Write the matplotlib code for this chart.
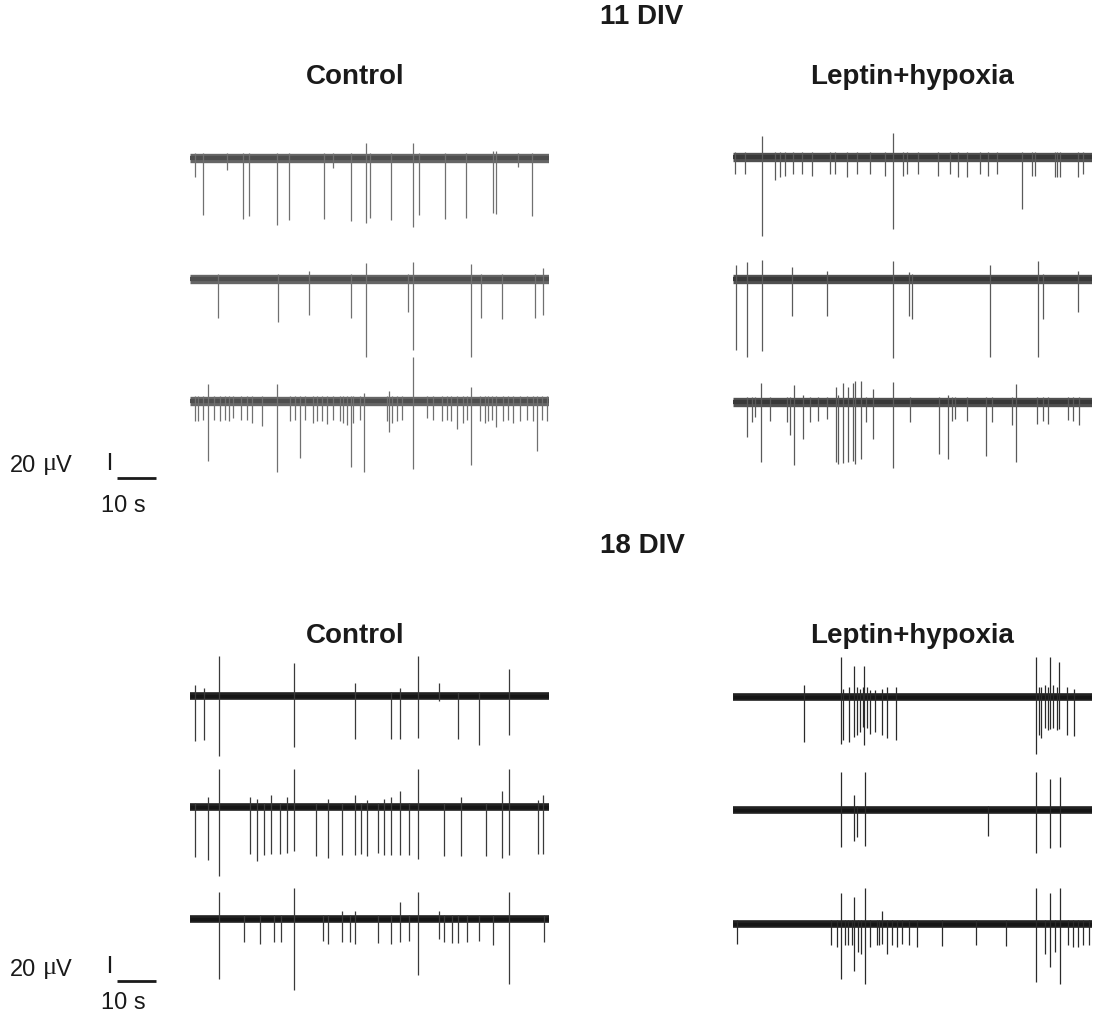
import matplotlib
matplotlib.use("Agg")
import matplotlib.pyplot as plt

W, H = 1093, 1025
PX_PER_S = 3.9          # horizontal scale: 10 s = 39 px
PX_PER_UV = 0.85        # vertical scale: 20 uV = 17 px
DURATION = 92.0         # seconds per trace

# ---------------- data: spike times (s), downward / upward amplitude (uV) ----------------
# 11 DIV control
c11_1_t = [1.3, 3.3, 9.5, 13.6, 15.1, 22.3, 25.4, 34.4, 36.7, 41.3, 45.1, 46.2, 51.5, 57.2, 58.7, 65.4, 70.8, 77.7, 78.5, 84.0, 87.7]
c11_1_dn = [22, 67, 14, 72, 68, 79, 73, 72, 12, 74, 77, 70, 73, 81, 67, 72, 71, 65, 66, 10, 68]
c11_1_up = [0, 5, 0, 5, 0, 5, 0, 5, 0, 0, 18, 0, 5, 18, 5, 5, 5, 8, 8, 0, 5]

c11_2_t = [7.2, 22.6, 30.5, 41.3, 45.1, 55.9, 57.2, 72.1, 74.6, 80.0, 88.5, 90.5]
c11_2_dn = [46, 50, 42, 46, 92, 39, 84, 92, 46, 47, 46, 42]
c11_2_up = [5, 5, 10, 5, 19, 5, 20, 18, 5, 5, 5, 13]

c11_3_t = [4.6, 22.3, 28.2, 41.3, 44.6, 51.0, 57.2, 72.1, 89.0,
           1.3, 2.1, 3.3, 6.2, 7.7, 9.0, 10.1, 11.1, 13.0, 14.5, 15.8, 18.4, 25.6, 26.9, 29.5,
           31.5, 32.6, 33.8, 35.0, 36.6, 38.5, 39.3, 40.2, 41.9, 43.6, 50.4, 51.7, 53.0, 54.3,
           60.7, 62.4, 64.5, 65.8, 66.8, 68.4, 69.9, 71.1, 74.4, 75.6, 76.5, 77.4, 78.5, 80.3,
           81.6, 82.9, 84.6, 86.3, 88.0, 90.2, 91.5]
c11_3_dn = [71, 84, 67, 78, 83, 37, 80, 75, 59,
            24, 24, 22, 22, 24, 22, 24, 20, 22, 22, 26, 29, 24, 22, 22,
            26, 24, 24, 27, 22, 24, 26, 28, 26, 22, 24, 26, 24, 22,
            20, 22, 24, 22, 24, 33, 26, 22, 24, 26, 24, 22, 31, 24,
            22, 26, 24, 22, 24, 22, 24]
c11_3_up = [20, 20, 5, 5, 10, 12, 52, 17, 5] + [0] * 50

# 11 DIV leptin + hypoxia
l11_1_t = [0.5, 3.1, 7.4, 10.8, 12.1, 13.3, 15.5, 17.6, 20.2, 24.9, 26.2, 29.2, 31.7, 35.1, 39.1, 41.1,
           43.7, 44.5, 47.5, 52.6, 55.6, 57.8, 59.9, 63.3, 65.5, 67.6, 74.0, 76.6, 77.4, 82.6, 83.2,
           83.8, 88.5, 89.8]
l11_1_dn = [20, 20, 93, 27, 24, 22, 20, 20, 22, 20, 20, 24, 20, 20, 22, 85,
            22, 20, 20, 22, 20, 23, 24, 20, 22, 20, 61, 22, 22, 24, 24,
            24, 24, 20]
l11_1_up = [0, 0, 25, 0, 0, 0, 0, 0, 0, 0, 0, 0, 0, 0, 0, 28,
            0, 0, 0, 0, 0, 0, 0, 0, 0, 0, 5, 0, 0, 0, 0,
            0, 5, 0]

l11_2_t = [0.8, 3.5, 7.4, 15.0, 24.1, 41.0, 45.0, 45.8, 65.9, 78.2, 79.5, 88.5]
l11_2_dn = [84, 92, 85, 44, 44, 93, 44, 47, 92, 92, 47, 39]
l11_2_up = [17, 20, 22, 14, 10, 21, 8, 5, 16, 21, 5, 10]

l11_3_t = [3.5, 4.8, 5.6, 7.1, 9.5, 13.8, 14.6, 15.7, 17.9, 19.7, 21.9, 24.0, 26.4, 27.0, 28.1, 29.6,
           30.7, 31.3, 32.7, 34.1, 35.8, 41.1, 45.4, 52.9, 55.2, 56.1, 56.9, 59.9, 64.9, 66.3,
           71.5, 72.5, 77.9, 79.6, 80.8, 85.8, 87.3, 88.8]
l11_3_dn = [41, 24, 18, 70, 22, 24, 39, 74, 44, 24, 22, 20, 71, 73, 72, 71,
            69, 73, 67, 24, 44, 78, 24, 61, 67, 22, 20, 22, 64, 24,
            27, 70, 26, 22, 26, 21, 22, 27]
l11_3_up = [0, 0, 0, 22, 0, 0, 0, 20, 8, 0, 0, 0, 18, 8, 22, 18,
            22, 25, 25, 0, 15, 23, 0, 0, 8, 0, 0, 0, 0, 0,
            0, 21, 0, 0, 0, 0, 0, 0]

# 18 DIV control
c18_1_t = [1.3, 3.6, 7.4, 26.7, 42.3, 51.5, 53.8, 58.5, 63.8, 68.7, 74.1, 81.8]
c18_1_dn = [53, 52, 70, 60, 51, 51, 51, 49, 6, 51, 58, 46]
c18_1_up = [13, 9, 47, 39, 15, 3, 9, 47, 15, 3, 3, 32]

c18_2_t = [1.3, 4.6, 7.4, 15.4, 17.2, 18.9, 20.8, 23.1, 24.8, 26.7, 32.3, 35.4, 39.0, 42.3, 43.8,
           45.3, 48.2, 49.7, 51.5, 53.8, 56.2, 58.5, 65.1, 69.5, 75.9, 80.0, 81.8, 89.2, 90.5]
c18_2_dn = [59, 62, 81, 55, 64, 56, 55, 55, 54, 52, 58, 60, 56, 56, 55,
            58, 54, 56, 56, 56, 56, 61, 58, 58, 58, 60, 56, 55, 55]
c18_2_up = [3, 12, 45, 12, 10, 3, 14, 3, 12, 45, 3, 10, 3, 14, 3,
            8, 3, 10, 12, 19, 3, 45, 3, 12, 3, 19, 45, 8, 14]

c18_3_t = [7.4, 13.8, 17.9, 21.5, 23.3, 26.7, 34.1, 35.4, 39.0, 41.0, 42.3, 48.2, 51.5, 53.8, 56.2,
           58.5, 63.8, 65.1, 67.2, 68.7, 71.0, 74.1, 77.7, 81.8, 90.8]
c18_3_dn = [70, 27, 29, 27, 27, 83, 26, 29, 27, 27, 29, 28, 29, 27, 26,
            66, 24, 27, 28, 28, 27, 26, 31, 77, 27]
c18_3_up = [32, 3, 3, 3, 3, 36, 3, 3, 9, 3, 10, 3, 3, 20, 3,
            32, 10, 3, 3, 3, 3, 3, 3, 32, 3]

# 18 DIV leptin + hypoxia
l18_1_t = [18.2, 27.7, 28.2, 29.7, 31.0, 31.8, 32.6, 33.3, 33.7, 34.3, 35.1, 36.4, 38.2, 39.5, 41.8,
           77.7, 78.5, 79.1, 80.0, 80.8, 81.3, 82.1, 83.1, 83.6, 85.6, 87.4]
l18_1_dn = [53, 55, 51, 53, 47, 45, 41, 35, 57, 37, 43, 41, 45, 48, 51,
            67, 45, 48, 37, 39, 38, 37, 39, 38, 45, 46]
l18_1_up = [14, 47, 10, 12, 37, 12, 10, 12, 37, 12, 8, 8, 10, 12, 12,
            47, 12, 12, 14, 12, 47, 14, 12, 41, 12, 10]

l18_2_t = [27.7, 31.0, 31.8, 33.9, 65.4, 77.7, 81.3, 83.8]
l18_2_dn = [44, 37, 32, 42, 31, 51, 45, 43]
l18_2_up = [45, 18, 5, 45, 3, 45, 37, 39]

l18_3_t = [0.9, 25.1, 26.6, 27.7, 28.7, 29.6, 30.4, 31.0, 32.0, 32.8, 33.9, 35.1, 36.8, 37.5, 38.1,
           39.4, 40.7, 42.0, 43.3, 45.0, 47.1, 53.5, 62.3, 70.0, 77.7, 80.0, 81.3, 82.6, 83.8,
           86.0, 87.3, 88.5, 89.8, 91.4]
l18_3_dn = [23, 25, 27, 65, 25, 25, 25, 55, 33, 35, 70, 27, 25, 25, 24,
            35, 25, 27, 23, 25, 27, 26, 25, 26, 68, 35, 50, 33, 71,
            25, 27, 27, 25, 25]
l18_3_up = [0, 0, 0, 36, 0, 0, 0, 32, 0, 0, 42, 0, 0, 0, 15,
            0, 0, 0, 0, 0, 0, 0, 0, 0, 42, 0, 36, 0, 42,
            0, 0, 0, 0, 0]

# ---------------- figure ----------------
fig = plt.figure(figsize=(W / 100, H / 100), dpi=100)
fig.patch.set_facecolor("white")

TOP_UV, BOT_UV = 60.0, 110.0


def trace_axes(x0_px, base_px):
    """axes whose data units are s / uV, positioned so that y=0 sits at base_px"""
    width_px = DURATION * PX_PER_S
    top_px = base_px - TOP_UV * PX_PER_UV
    h_px = (TOP_UV + BOT_UV) * PX_PER_UV
    ax = fig.add_axes([x0_px / W, 1 - (top_px + h_px) / H, width_px / W, h_px / H])
    ax.set_xlim(0, DURATION)
    ax.set_ylim(-BOT_UV, TOP_UV)
    ax.axis("off")
    ax.patch.set_alpha(0)
    return ax


def draw_trace(ax, t, dn, up, band_uv, band_col, edge_col, spike_col, lw):
    ax.plot([0, DURATION], [0, 0], color=band_col, lw=band_uv * PX_PER_UV * 0.72,
            solid_capstyle="butt", zorder=2)
    # slightly darker core of the noise band
    ax.plot([0, DURATION], [0, 0], color=edge_col, lw=band_uv * PX_PER_UV * 0.72 * 0.45,
            solid_capstyle="butt", zorder=2)
    dn_ends = [-d for d in dn]
    up_ends = [max(u, band_uv / 2) for u in up]
    ax.vlines(t, dn_ends, up_ends, color=spike_col, lw=lw, zorder=3)


panels = [
    # (x0 px, baselines px, traces, band uV, band colour, core colour, spike colour, lw)
    (190, [158, 279, 401], [(c11_1_t, c11_1_dn, c11_1_up), (c11_2_t, c11_2_dn, c11_2_up),
                            (c11_3_t, c11_3_dn, c11_3_up)], 11, "#666666", "#4e4e4e", "#707070", 0.9),
    (733, [157, 279, 402], [(l11_1_t, l11_1_dn, l11_1_up), (l11_2_t, l11_2_dn, l11_2_up),
                            (l11_3_t, l11_3_dn, l11_3_up)], 11, "#505050", "#383838", "#5a5a5a", 0.9),
    (190, [696, 807, 919], [(c18_1_t, c18_1_dn, c18_1_up), (c18_2_t, c18_2_dn, c18_2_up),
                            (c18_3_t, c18_3_dn, c18_3_up)], 9, "#222222", "#151515", "#3a3a3a", 0.9),
    (733, [697, 810, 924], [(l18_1_t, l18_1_dn, l18_1_up), (l18_2_t, l18_2_dn, l18_2_up),
                            (l18_3_t, l18_3_dn, l18_3_up)], 9, "#222222", "#151515", "#2a2a2a", 0.9),
]

for x0, bases, traces, band, bcol, ecol, scol, lw in panels:
    for base, (t, dn, up) in zip(bases, traces):
        ax = trace_axes(x0, base)
        draw_trace(ax, t, dn, up, band, bcol, ecol, scol, lw)

# ---------------- scale bars ----------------
def scale_bar(base_px, label_y_px, ten_y_px):
    ax = trace_axes(100, base_px)
    ax.plot([4.4, 14.4], [0, 0], color="#1a1a1a", lw=2.0, solid_capstyle="butt")
    ax.plot([2.6, 2.6], [9.0, 29.0], color="#1a1a1a", lw=1.6, solid_capstyle="butt")
    fy = 1 - label_y_px / H
    fig.text(10 / W, fy, "20", fontsize=17, family="Liberation Sans",
             ha="left", va="center", color="#1a1a1a")
    fig.text(43 / W, fy + 2 / H, "\u03bc", fontsize=19, family="Liberation Serif",
             ha="left", va="center", color="#1a1a1a")
    fig.text(56 / W, fy, "V", fontsize=17, family="Liberation Sans",
             ha="left", va="center", color="#1a1a1a")
    fig.text(123 / W, 1 - ten_y_px / H, "10 s", fontsize=17, family="Liberation Sans",
             ha="center", va="center", color="#1a1a1a")


scale_bar(478, 466, 506)
scale_bar(981, 970, 1003)

# ---------------- titles ----------------
def title(x, y, s):
    fig.text(x / W, 1 - y / H, s, fontsize=20, fontweight="bold", family="Liberation Sans",
             ha="center", va="center", color="#1a1a1a")


title(642, 17, "11 DIV")
title(355, 77, "Control")
title(912, 77, "Leptin+hypoxia")
title(642, 546, "18 DIV")
title(355, 636, "Control")
title(912, 636, "Leptin+hypoxia")

fig.savefig("out.png", dpi=100, facecolor="white")
